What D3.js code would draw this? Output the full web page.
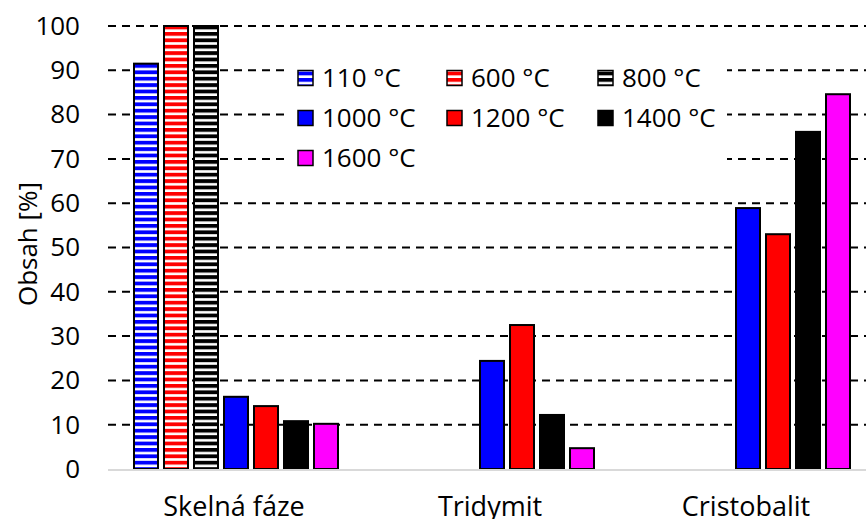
<!DOCTYPE html>
<html>
<head>
<meta charset="utf-8">
<script src="https://cdn.jsdelivr.net/npm/d3@7"></script>
<style>
  body { margin: 0; background: #fff; }
  svg { display: block; font-family: "Open Sans", sans-serif; }
</style>
</head>
<body>
<svg id="chart"></svg>
<script>
const width = 866; // pixels
const height = 519; // pixels

const categories = ["Skelná fáze", "Tridymit", "Cristobalit"];
const series = ["110 °C", "600 °C", "800 °C", "1000 °C", "1200 °C", "1400 °C", "1600 °C"];
const seriesColors = ["#0000ff", "#ff0000", "#000000", "#0000ff", "#ff0000", "#000000", "#ff00ff"];
const seriesStriped = [true, true, true, false, false, false, false];
// one row per series, one value per category (null = no bar)
const values = [
  [91.5, null, null],
  [100, null, null],
  [100, null, null],
  [16.3, 24.4, 58.9],
  [14.2, 32.5, 53.0],
  [10.8, 12.2, 76.1],
  [10.2, 4.7, 84.6]
];
const yTicks = d3.range(0, 101, 10);

const svg = d3.select("#chart")
  .attr("width", width)
  .attr("height", height);

/**
 * Scales: category bands and one slot per series inside each band.
 */
const x0 = d3.scaleBand(d3.range(categories.length), [108, 876]);
const x1 = d3.scaleBand(series, [0, 210]).paddingInner(0.2).paddingOuter(0.1);
const groupOffset = (x0.bandwidth() - 210) / 2;
const y = d3.scaleLinear([0, 100], [469, 26]);

/**
 * Stripe patterns for the first three series.
 */
const defs = svg.append("defs");
series.forEach((s, i) => {
  if (!seriesStriped[i]) return;
  const p = defs.append("pattern")
    .attr("id", "stripe" + i)
    .attr("patternUnits", "userSpaceOnUse")
    .attr("width", 8)
    .attr("height", 6.4);
  p.append("rect").attr("width", 8).attr("height", 6.4).attr("fill", "#fff");
  p.append("rect").attr("width", 8).attr("height", 3.8).attr("fill", seriesColors[i]);
});
const fillOf = i => seriesStriped[i] ? `url(#stripe${i})` : seriesColors[i];

/**
 * Gridlines and y axis.
 */
svg.append("g")
  .selectAll("line")
  .data(yTicks.filter(d => d > 0))
  .join("line")
  .attr("x1", 108)
  .attr("x2", width)
  .attr("y1", d => y(d))
  .attr("y2", d => y(d))
  .attr("stroke", "#000")
  .attr("stroke-width", 2)
  .attr("stroke-dasharray", "8,6");

svg.append("g")
  .attr("transform", "translate(80,0)")
  .call(d3.axisLeft(y).tickValues(yTicks).tickSize(0).tickPadding(0))
  .call(g => g.select(".domain").remove())
  .call(g => g.selectAll("text")
    .attr("font-family", "Open Sans, sans-serif")
    .attr("font-size", 26)
    .attr("fill", "#000"));

svg.append("text")
  .attr("transform", "translate(37,244) rotate(-90)")
  .attr("text-anchor", "middle")
  .attr("font-size", 26)
  .text("Obsah [%]");

/**
 * Bars.
 */
const bars = [];
values.forEach((row, si) => row.forEach((v, ci) => {
  if (v != null) bars.push({si, ci, v});
}));

svg.append("g")
  .selectAll("rect")
  .data(bars)
  .join("rect")
  .attr("x", d => x0(d.ci) + groupOffset + x1(series[d.si]))
  .attr("width", x1.bandwidth())
  .attr("y", d => y(d.v))
  .attr("height", d => y(0) - y(d.v))
  .attr("fill", d => fillOf(d.si))
  .attr("stroke", "#000")
  .attr("stroke-width", 2);

// x axis baseline
svg.append("line")
  .attr("x1", 108).attr("x2", width)
  .attr("y1", y(0) + 1).attr("y2", y(0) + 1)
  .attr("stroke", "#d9d9d9")
  .attr("stroke-width", 2);

svg.append("g")
  .selectAll("text")
  .data(categories)
  .join("text")
  .attr("x", (d, i) => x0(i) + x0.bandwidth() / 2 - 2)
  .attr("y", 516)
  .attr("text-anchor", "middle")
  .attr("font-size", 27)
  .text(d => d);

/**
 * Legend.
 */
const legend = svg.append("g");
legend.append("rect")
  .attr("x", 287).attr("y", 57)
  .attr("width", 440).attr("height", 121)
  .attr("fill", "#fff");

const colX = [298, 447, 598];
const rowY = [78, 118, 158];
const item = legend.selectAll("g")
  .data(series)
  .join("g")
  .attr("transform", (d, i) => `translate(${colX[i % 3]},${rowY[Math.floor(i / 3)]})`);
item.append("rect")
  .attr("x", 0).attr("y", -7.5)
  .attr("width", 15).attr("height", 15)
  .attr("fill", (d, i) => fillOf(i))
  .attr("stroke", "#000")
  .attr("stroke-width", 1.5);
item.append("text")
  .attr("x", 24)
  .attr("dy", "0.35em")
  .attr("font-size", 26)
  .text(d => d);
</script>
</body>
</html>
